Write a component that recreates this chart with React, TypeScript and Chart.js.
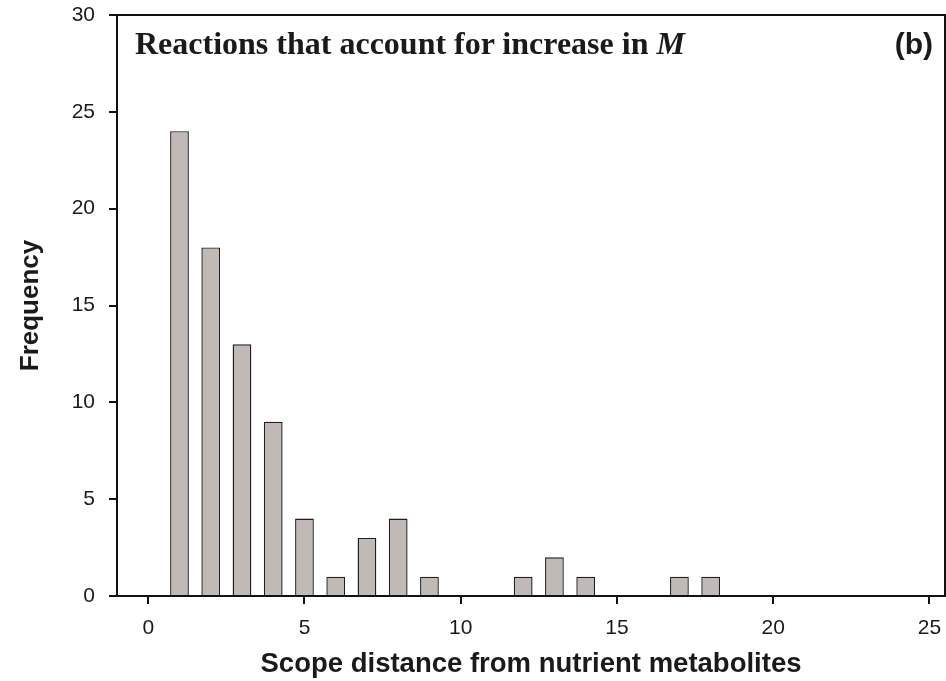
import React, { useEffect, useRef } from "react";
import { Chart, registerables } from "chart.js";

Chart.register(...registerables);

const distances = [1, 2, 3, 4, 5, 6, 7, 8, 9, 12, 13, 14, 17, 18];
const frequencies = [24, 18, 13, 9, 4, 1, 3, 4, 1, 1, 2, 1, 1, 1];
const xTicks = [0, 5, 10, 15, 20, 25];
const yTicks = [0, 5, 10, 15, 20, 25, 30];

const frame = {
  id: "frame",
  afterDraw(chart: any) {
    const { ctx, chartArea } = chart;
    ctx.save();
    ctx.strokeStyle = "#111";
    ctx.lineWidth = 2;
    ctx.beginPath();
    ctx.moveTo(chartArea.left, chartArea.top);
    ctx.lineTo(chartArea.right, chartArea.top);
    ctx.lineTo(chartArea.right, chartArea.bottom);
    ctx.stroke();
    ctx.restore();
  },
};

export default function App() {
  const ref = useRef<HTMLCanvasElement>(null);
  useEffect(() => {
    document.body.style.margin = "0";
    const chart = new Chart(ref.current as HTMLCanvasElement, {
      type: "bar",
      data: {
        datasets: [
          {
            data: distances.map((d, i) => ({ x: d, y: frequencies[i] })),
            backgroundColor: "#c1b9b6",
            borderColor: "#1e1e1e",
            borderWidth: 1.4,
            categoryPercentage: 1,
            barPercentage: 0.6,
          },
        ],
      },
      options: {
        animation: false,
        responsive: false,
        layout: { padding: { top: 15, right: 1, left: 0, bottom: 0 } },
        plugins: { legend: { display: false }, tooltip: { enabled: false } },
        scales: {
          x: {
            type: "linear",
            offset: false,
            min: -1,
            max: 25.5,
            afterBuildTicks: (s: any) => {
              s.ticks = xTicks.map((v) => ({ value: v }));
            },
            afterFit: (s: any) => {
              s.height = 85;
              s.paddingLeft = 0;
              s.paddingRight = 0;
            },
            grid: { offset: false, drawOnChartArea: false, drawTicks: true, tickLength: 8, color: "#111", lineWidth: 2 },
            border: { display: true, color: "#111", width: 2 },
            ticks: {
              font: { family: "'Liberation Sans', Arial, sans-serif", size: 21 },
              color: "#1a1a1a",
              padding: 12,
              maxRotation: 0,
              autoSkip: false,
            },
            title: {
              display: true,
              text: "Scope distance from nutrient metabolites",
              font: { family: "'Liberation Sans', Arial, sans-serif", size: 27.5, weight: "bold" },
              color: "#1a1a1a",
              padding: { top: 0, bottom: 0 },
            },
          },
          y: {
            min: 0,
            max: 30,
            afterBuildTicks: (s: any) => {
              s.ticks = yTicks.map((v) => ({ value: v }));
            },
            afterFit: (s: any) => {
              s.width = 117;
              s.paddingTop = 0;
              s.paddingBottom = 0;
            },
            grid: { drawOnChartArea: false, drawTicks: true, tickLength: 8, color: "#111", lineWidth: 2 },
            border: { display: true, color: "#111", width: 2 },
            ticks: {
              font: { family: "'Liberation Sans', Arial, sans-serif", size: 21 },
              color: "#1a1a1a",
              padding: 14,
            },
            title: {
              display: true,
              text: "Frequency",
              font: { family: "'Liberation Sans', Arial, sans-serif", size: 26, weight: "bold" },
              color: "#1a1a1a",
              padding: { top: 15, bottom: 0 },
            },
          },
        },
      },
      plugins: [frame],
    } as any);
    return () => chart.destroy();
  }, []);

  return (
    <div style={{ position: "absolute", left: 0, top: 0, width: 946, height: 681 }}>
      <canvas ref={ref} width={946} height={681} style={{ width: 946, height: 681, display: "block" }} />
      <div
        style={{
          position: "absolute",
          left: 135,
          top: 23,
          fontFamily: "'Liberation Serif', 'Times New Roman', serif",
          fontWeight: "bold",
          fontSize: 32,
          color: "#1a1a1a",
          whiteSpace: "nowrap",
          lineHeight: "40px",
        }}
      >
        Reactions that account for increase in <i>M</i>
      </div>
      <div
        style={{
          position: "absolute",
          right: 946 - 933,
          top: 24,
          fontFamily: "'Liberation Sans', Arial, sans-serif",
          fontWeight: "bold",
          fontSize: 30,
          color: "#1a1a1a",
          whiteSpace: "nowrap",
          lineHeight: "40px",
        }}
      >
        (b)
      </div>
    </div>
  );
}
